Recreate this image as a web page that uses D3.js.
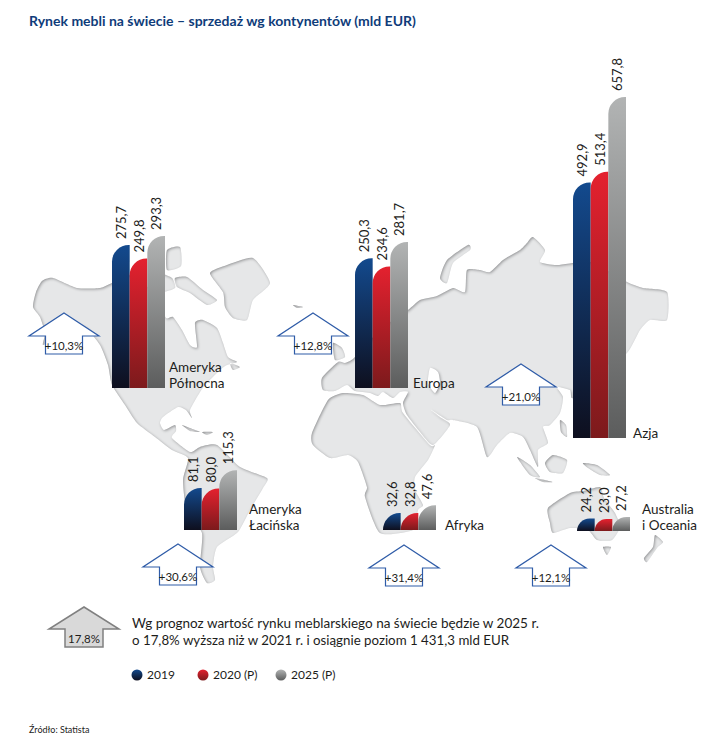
<!DOCTYPE html>
<html lang="pl">
<head>
<meta charset="utf-8">
<script src="https://cdn.jsdelivr.net/npm/d3@7"></script>
<style>
  html, body { margin: 0; padding: 0; background: #fff; }
  svg { display: block; }
  text { font-family: "Lato", "Open Sans", sans-serif; fill: #1d1d1b; }
</style>
</head>
<body>
<div id="chart"></div>
<script>
const WIDTH = 727;
const HEIGHT = 744;

// data
const regions = ["Ameryka Północna", "Europa", "Azja", "Ameryka Łacińska", "Afryka", "Australia i Oceania"];
const seriesNames = ["2019", "2020 (P)", "2025 (P)"];
const values2019 = [275.7, 250.3, 492.9, 81.1, 32.6, 24.2];
const values2020 = [249.8, 234.6, 513.4, 80.0, 32.8, 23.0];
const values2025 = [293.3, 281.7, 657.8, 115.3, 47.6, 27.2];
const growth = ["+10,3%", "+12,8%", "+21,0%", "+30,6%", "+31,4%", "+12,1%"];

// where each group of bars stands on the page
const panelLeft = [112, 355, 573, 184, 383, 577];
const panelBase = [388, 388, 438, 530, 530, 531];
const PANEL_WIDTH = 53;
const arrowX = [64, 313, 521, 178, 404, 551];
const arrowY = [313, 313, 364, 544, 545, 545];
const regionLines = [["Ameryka", "Północna"], ["Europa"], ["Azja"], ["Ameryka", "Łacińska"], ["Afryka"], ["Australia", "i Oceania"]];
const labelX = [169, 413, 633, 249, 445, 642];
const labelY = [388, 388, 438, 530, 530, 530];

// world map backdrop, hand traced
const land = [
  [[33,307],[36,292],[42,281],[53,278],[77,288],[100,288],[112,283],[135,275],[158,300],[166,318],[173,317],[182,330],[190,345],[197,347],[195,323],[203,320],[217,328],[223,343],[228,357],[237,362],[227,365],[220,370],[205,385],[200,392],[190,410],[192,418],[186,410],[178,407],[163,417],[160,423],[164,430],[175,425],[176,431],[172,438],[190,452],[200,447],[217,445],[240,467],[267,478],[263,488],[250,510],[238,532],[217,547],[213,567],[215,580],[207,583],[200,567],[202,533],[187,513],[183,480],[188,458],[172,450],[155,437],[137,423],[125,405],[112,385],[108,365],[100,345],[85,327],[70,325],[55,338],[43,345],[45,333],[40,317]],
  [[210,273],[227,265],[253,258],[270,283],[253,300],[247,320],[233,318],[225,307],[223,292]],
  [[167,250],[180,247],[181,266],[167,270]],
  [[160,274],[172,278],[175,288],[160,292]],
  [[175,278],[187,277],[203,290],[217,300],[207,305],[190,293],[177,287]],
  [[230,363],[240,367],[233,370]],
  [[182,425],[190,428],[200,432],[190,431]],
  [[202,432],[213,432],[207,435]],
  [[408,310],[420,300],[437,296],[453,288],[465,292],[467,270],[480,270],[490,272],[503,260],[520,250],[527,243],[533,237],[545,250],[540,262],[557,265],[590,262],[627,282],[643,288],[667,292],[667,320],[650,320],[640,330],[627,353],[600,370],[573,398],[570,390],[557,387],[563,397],[560,413],[550,425],[543,427],[548,443],[538,450],[538,467],[530,450],[523,437],[510,433],[497,445],[487,457],[477,427],[453,420],[447,420],[430,409],[440,417],[450,425],[433,445],[420,432],[407,415],[403,403],[408,392],[400,392],[393,398],[383,392],[378,396],[370,393],[355,391],[347,385],[335,391],[323,390],[322,378],[338,362],[345,363],[354,358],[380,330]],
  [[440,278],[447,260],[468,245],[470,250],[453,263],[447,283]],
  [[400,403],[403,413],[430,445],[435,445],[428,460],[415,477],[415,490],[423,505],[418,510],[413,530],[380,533],[365,497],[367,487],[358,462],[348,455],[330,458],[313,445],[312,433],[328,400],[343,393],[363,395],[380,405]],
  [[333,343],[342,348],[345,357],[335,360]],
  [[293,305],[303,307],[297,308]],
  [[548,508],[570,493],[583,491],[600,487],[604,498],[615,513],[620,527],[612,540],[597,540],[588,530],[570,528],[553,533],[550,523]],
  [[603,547],[611,547],[607,555]],
  [[655,535],[663,542],[657,548],[647,562],[644,558],[653,547]],
  [[583,463],[597,465],[610,475],[600,475],[588,468]],
  [[517,457],[530,465],[540,477],[530,475]],
  [[545,463],[553,455],[567,460],[563,473],[550,472]],
  [[535,478],[553,482],[543,482]],
  [[560,420],[566,425],[567,437],[561,432]]
];
const caspian = [[430,368],[438,372],[440,383],[435,393],[428,383]];

const svg = d3.select("#chart").append("svg")
  .attr("width", WIDTH)
  .attr("height", HEIGHT)
  .attr("viewBox", [0, 0, WIDTH, HEIGHT]);

const defs = svg.append("defs");

const barColors = [
  ["#134a8e", "#0e0f1e"],
  ["#e4212f", "#7c1a1c"],
  ["#b2b4b4", "#5c5d5d"]
];
barColors.forEach((c, i) => {
  const g = defs.append("linearGradient")
    .attr("id", "bar" + i)
    .attr("x1", 0).attr("y1", 0).attr("x2", 0).attr("y2", 1);
  g.append("stop").attr("offset", "0%").attr("stop-color", c[0]);
  g.append("stop").attr("offset", "100%").attr("stop-color", c[1]);
});

// soft inner shadow along the coasts
const emboss = defs.append("filter").attr("id", "emboss")
  .attr("x", "-5%").attr("y", "-5%").attr("width", "110%").attr("height", "110%");
emboss.append("feComponentTransfer").attr("in", "SourceAlpha").attr("result", "inv")
  .append("feFuncA").attr("type", "table").attr("tableValues", "1 0");
emboss.append("feGaussianBlur").attr("in", "inv").attr("stdDeviation", 1.6).attr("result", "blur");
emboss.append("feOffset").attr("in", "blur").attr("dx", 1.2).attr("dy", 1.2).attr("result", "off");
emboss.append("feFlood").attr("flood-color", "#8b8c8e").attr("result", "col");
emboss.append("feComposite").attr("in", "col").attr("in2", "off").attr("operator", "in").attr("result", "sh");
emboss.append("feComposite").attr("in", "sh").attr("in2", "SourceAlpha").attr("operator", "in").attr("result", "inner");
const em = emboss.append("feMerge");
em.append("feMergeNode").attr("in", "SourceGraphic");
em.append("feMergeNode").attr("in", "inner");

const coast = d3.line().curve(d3.curveCardinalClosed.tension(0.4));

const mapPath = land.map(coast).join("") + coast(caspian);
svg.append("path")
  .attr("d", mapPath)
  .attr("fill", "#e6e7e8")
  .attr("fill-rule", "evenodd")
  .attr("filter", "url(#emboss)");

// title
svg.append("text")
  .attr("x", 29).attr("y", 26)
  .attr("font-size", 14)
  .attr("font-weight", 700)
  .style("fill", "#0f3c7a")
  .text("Rynek mebli na świecie – sprzedaż wg kontynentów (mld EUR)");

// shared bar height scale, one band scale for the three bars of a group
const heightScale = d3.scaleLinear().domain([0, d3.max(values2025)]).range([0, 341]);
const xBand = d3.scaleBand().domain(d3.range(seriesNames.length)).range([0, PANEL_WIDTH]);

function barPath(w, h) {
  // top left corner is a quarter circle, the rest is square
  const r = Math.min(w - 1, h);
  return `M0,0 V${-(h - r)} A${r},${r} 0 0 1 ${r},${-h} H${w} V0 Z`;
}

const fmt = v => v.toFixed(1).replace(".", ",");
const allSeries = [values2019, values2020, values2025];

const panels = svg.selectAll(".panel")
  .data(regions)
  .enter().append("g")
  .attr("class", "panel")
  .attr("transform", (d, i) => `translate(${panelLeft[i]},${panelBase[i]})`);

panels.each(function(region, r) {
  const g = d3.select(this);
  const rows = allSeries.map((s, k) => ({ k: k, v: s[r] }));

  g.selectAll("path")
    .data(rows)
    .enter().append("path")
    .attr("transform", d => `translate(${xBand(d.k)},0)`)
    .attr("d", d => barPath(xBand.bandwidth(), heightScale(d.v)))
    .attr("fill", d => `url(#bar${d.k})`);

  g.selectAll("text")
    .data(rows)
    .enter().append("text")
    .attr("transform", d => `translate(${xBand(d.k) + xBand.bandwidth() / 2 + 5},${-heightScale(d.v) - 6}) rotate(-90)`)
    .attr("font-size", 13)
    .text(d => fmt(d.v));
});

// region names
regionLines.forEach((lines, i) => {
  lines.forEach((line, j) => {
    svg.append("text")
      .attr("x", labelX[i])
      .attr("y", labelY[i] - (lines.length - 1 - j) * 16.5)
      .attr("font-size", 13.5)
      .text(line);
  });
});

// growth arrows
const arrowShape = d3.line()([[0,0],[35,23],[18.5,23],[18.5,41],[-18.5,41],[-18.5,23],[-35,23]]) + "Z";
growth.forEach((label, i) => {
  const g = svg.append("g").attr("transform", `translate(${arrowX[i]},${arrowY[i]})`);
  g.append("path")
    .attr("d", arrowShape)
    .attr("fill", "#fff")
    .attr("stroke", "#2f5ca8")
    .attr("stroke-width", 1.2);
  g.append("text")
    .attr("y", 37)
    .attr("text-anchor", "middle")
    .attr("font-size", 11.5)
    .text(label);
});

// summary
const big = svg.append("g").attr("transform", "translate(84,607)");
big.append("path")
  .attr("d", d3.line()([[0,0],[35,22],[19,22],[19,40],[-19,40],[-19,22],[-35,22]]) + "Z")
  .attr("fill", "#d9d9d9")
  .attr("stroke", "#808080")
  .attr("stroke-width", 1.5);
big.append("text")
  .attr("y", 36)
  .attr("text-anchor", "middle")
  .attr("font-size", 11.5)
  .text("17,8%");

svg.append("text").attr("x", 132).attr("y", 628).attr("font-size", 13.5)
  .text("Wg prognoz wartość rynku meblarskiego na świecie będzie w 2025 r.");
svg.append("text").attr("x", 132).attr("y", 645).attr("font-size", 13.3)
  .text("o 17,8% wyższa niż w 2021 r. i osiągnie poziom 1 431,3 mld EUR");

// legend
const legendX = [137, 203, 281];
seriesNames.forEach((name, i) => {
  svg.append("circle")
    .attr("cx", legendX[i]).attr("cy", 675).attr("r", 5.5)
    .attr("fill", `url(#bar${i})`);
  svg.append("text")
    .attr("x", legendX[i] + 10).attr("y", 679)
    .attr("font-size", 12)
    .text(name);
});

svg.append("text").attr("x", 29).attr("y", 733).attr("font-size", 9)
  .text("Źródło: Statista");
</script>
</body>
</html>
